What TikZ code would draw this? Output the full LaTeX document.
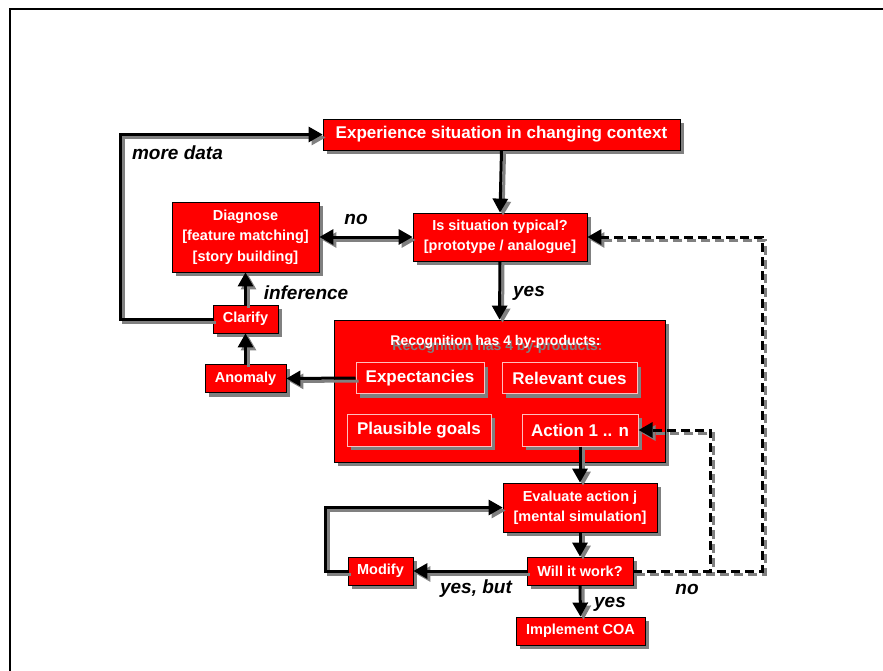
\documentclass[tikz,border=0pt]{standalone}
\usepackage{fontspec}
\setmainfont{Liberation Sans}
\usetikzlibrary{arrows.meta,shadows}
\definecolor{boxred}{RGB}{255,0,0}
\definecolor{shade}{RGB}{128,128,128}
\definecolor{rim}{RGB}{255,190,190}
% a connector drawn with a grey offset copy beneath it
\newcommand\connect[2]{%
  \begin{scope}[transform canvas={shift={(3pt,-3pt)}}]
    \draw[#1, draw=shade] #2;
  \end{scope}
  \draw[#1] #2;}
\begin{document}
\begin{tikzpicture}[x=1pt,y=-1pt,
  every node/.style={inner sep=0pt, align=center},
  dropped/.style={drop shadow={shadow xshift=4pt, shadow yshift=-4pt, fill=shade, opacity=1}},
  box/.style={draw=black, line width=0.8pt, fill=boxred, text=white, dropped,
    font=\fontsize{14.5}{20.5}\selectfont\bfseries},
  widebox/.style={box, font=\fontsize{17}{20}\selectfont\bfseries},
  item/.style={draw=rim, line width=1pt, fill=boxred, text=white, dropped,
    font=\fontsize{17}{20}\selectfont\bfseries},
  tag/.style={font=\fontsize{19}{22}\selectfont\bfseries\itshape},
  flow/.style={line width=3pt, -{Triangle[length=14pt,width=15pt]}},
  twoway/.style={line width=3pt, {Triangle[length=14pt,width=15pt]}-{Triangle[length=14pt,width=15pt]}},
  dflow/.style={line width=3pt, dash pattern=on 9pt off 5pt, -{Triangle[length=14pt,width=15pt]}},
]
\useasboundingbox (0,0) rectangle (883,671);
% page frame
\draw[line width=2.5pt] (10,671) -- (10,9) -- (883,9);

% boxes
\node[widebox, minimum width=357pt, minimum height=31pt] (exp) at (501.5,134.5)
  {Experience situation in changing context};
\node[box, minimum width=174pt, minimum height=48pt] (typ) at (500,237)
  {Is situation typical?\\{}[prototype / analogue]};
\node[box, minimum width=147pt, minimum height=70pt] (diag) at (245.5,237)
  {Diagnose\\{}[feature matching]\\{}[story building]};
\node[box, minimum width=65pt, minimum height=28pt] (clar) at (245.5,319) {Clarify};
\node[box, minimum width=81pt, minimum height=28pt] (anom) at (245.5,378.5) {Anomaly};

\node[box, minimum width=331pt, minimum height=142pt] (rec) at (499.5,391) {};
\node[text=shade, font=\fontsize{14}{16}\selectfont\bfseries] (recshadow) at (497.5,346.5) {Recognition has 4 by-products:};
\node[text=white, font=\fontsize{14}{16}\selectfont\bfseries] (rectitle) at (495.5,342) {Recognition has 4 by-products:};
\node[item, minimum width=128pt, minimum height=31pt] (expc) at (420,378) {Expectancies};
\node[item, minimum width=135pt, minimum height=31pt] (cues) at (569.5,378) {Relevant cues};
\node[item, minimum width=144pt, minimum height=32pt] (goals) at (419,430) {Plausible goals};
\node[item, minimum width=116pt, minimum height=32pt] (act) at (580,430) {Action 1 .. n};

\node[box, minimum width=154pt, minimum height=49pt] (eval) at (580,507.5)
  {Evaluate action j\\{}[mental simulation]};
\node[box, minimum width=106pt, minimum height=28pt] (will) at (580,571) {Will it work?};
\node[box, minimum width=65pt, minimum height=28pt] (mod) at (380.5,571) {Modify};
\node[box, minimum width=129pt, minimum height=28pt] (impl) at (580.5,631) {Implement COA};

% connectors
\connect{flow}{(exp.south) -- (typ.north)}
\connect{flow}{(typ.south) -- (rec.north)}
\connect{twoway}{(diag.east) -- (typ.west)}
\connect{flow}{(clar.north) -- (diag.south)}
\connect{flow}{(anom.north) -- (clar.south)}
\connect{flow}{(expc.west) -- (anom.east)}
\connect{flow}{(clar.west) -- ++(-92,0) |- (exp.west)}
\connect{flow}{(act.south) -- (eval.north)}
\connect{flow}{(eval.south) -- (will.north)}
\connect{flow}{(will.south) -- (impl.north)}
\connect{flow}{(will.west) -- (mod.east)}
\connect{flow}{(mod.west) -- ++(-22,0) |- (eval.west)}
\connect{dflow}{(will.east) -- ++(129,0) |- (typ.east)}
\connect{dflow}{(will.east) -- ++(77,0) |- (act.east)}

% connector labels
\node[tag] (lmore) at (177.5,153) {more data};
\node[tag] (lno) at (356,219) {no};
\node[tag] (linf) at (306,293) {inference};
\node[tag] (lyes) at (529,293) {yes};
\node[tag] (lbut) at (476,589) {yes, but};
\node[tag] (lno2) at (687,589) {no};
\node[tag] (lyes2) at (610,604) {yes};
\end{tikzpicture}
\end{document}
